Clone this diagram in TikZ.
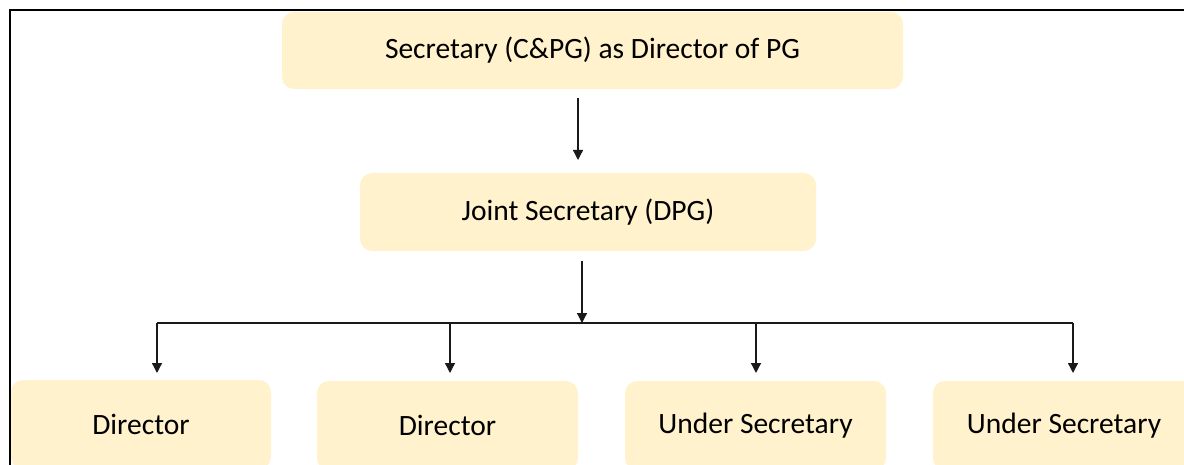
\documentclass[tikz,border=0pt]{standalone}
\usepackage{fontspec}
\setmainfont{Carlito}
\usetikzlibrary{arrows.meta}
\definecolor{boxfill}{HTML}{FFF2CC}
\definecolor{linegray}{HTML}{1A1A1A}
\begin{document}
\begin{tikzpicture}[x=1pt,y=-1pt,
  orgbox/.style={fill=boxfill,draw=none,rounded corners=12pt,inner sep=0pt,
    font=\fontsize{29.5}{35}\selectfont,text=black},
  arr/.style={draw=linegray,line width=1.3pt,-{Triangle[length=10pt,width=10pt]}},
  ln/.style={draw=linegray,line width=1.3pt}]
\useasboundingbox (0,0) rectangle (1184,465);
% frame
\draw[line width=2pt,black] (9.5,466) -- (9.5,10) -- (1190,10);
% boxes
\node[orgbox,minimum width=621pt,minimum height=77pt] (top) at (592.5,50.5) {Secretary (C\&PG) as Director of PG};
\node[orgbox,minimum width=456pt,minimum height=78pt] (js) at (588,212) {Joint Secretary (DPG)};
\node[orgbox,minimum width=260pt,minimum height=89pt] (d1) at (141,424.5) {Director};
\node[orgbox,minimum width=261pt,minimum height=89pt] (d2) at (447.5,425.5) {Director};
\node[orgbox,minimum width=261pt,minimum height=89pt] (u1) at (755.5,425.5) {Under Secretary};
\node[orgbox,minimum width=262pt,minimum height=89pt] (u2) at (1064,425.5) {Under Secretary};
% connector points
\coordinate (a0) at (578,98);
\coordinate (a1) at (578,160);
\coordinate (b0) at (582,261);
\coordinate (hub) at (582,323);
\coordinate (h1) at (157,323);
\coordinate (h2) at (450,323);
\coordinate (h3) at (756,323);
\coordinate (h4) at (1073,323);
\coordinate (t1) at (157,373);
\coordinate (t2) at (450,373);
\coordinate (t3) at (756,373);
\coordinate (t4) at (1073,373);
% connectors
\draw[arr] (a0) -- (a1);
\draw[arr] (b0) -- (hub);
\draw[ln] (h1) -- (h4);
\draw[arr] (h1) -- (t1);
\draw[arr] (h2) -- (t2);
\draw[arr] (h3) -- (t3);
\draw[arr] (h4) -- (t4);
\end{tikzpicture}
\end{document}
